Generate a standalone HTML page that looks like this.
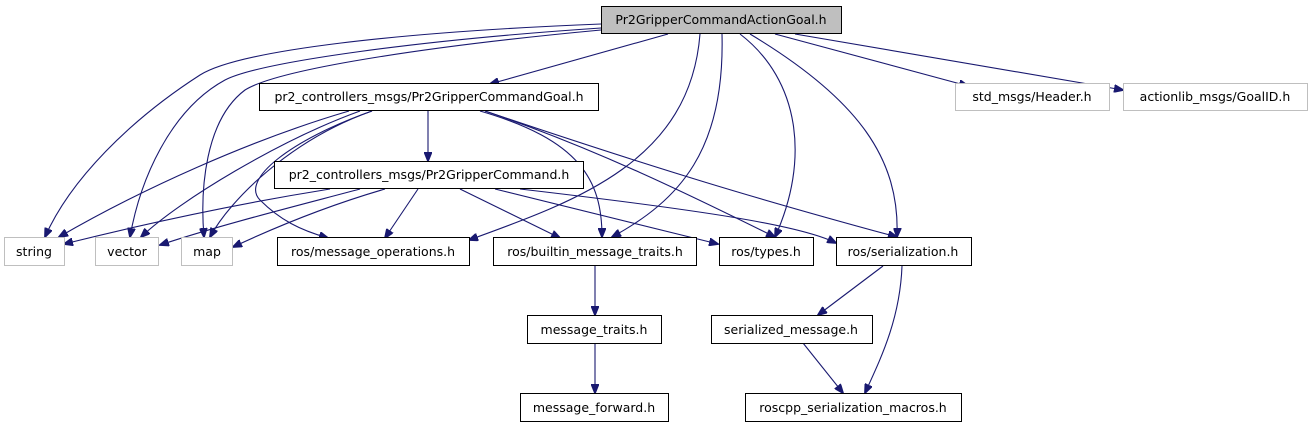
<!DOCTYPE html>
<html><head><meta charset="utf-8"><style>
html,body{margin:0;padding:0;background:#fff;width:1312px;height:427px;overflow:hidden}
text{font-family:"DejaVu Sans","Liberation Sans",sans-serif;font-size:12.5px;fill:#000}
</style></head><body>
<svg width="1312" height="427" viewBox="0 0 1312 427" xmlns="http://www.w3.org/2000/svg">
<defs><marker id="a" markerWidth="10" markerHeight="8" refX="9" refY="4" orient="auto" markerUnits="userSpaceOnUse"><path d="M0,0 L10,4 L0,8 z" fill="#191970" stroke="#191970"/></marker></defs>
<g fill="none" stroke="#191970" stroke-width="1.1" marker-end="url(#a)">
<!-- from top -->
<path d="M668,34 L490,84"/>
<path d="M601,24 C400,32 240,50 200,75 C130,120 70,180 45,237"/>
<path d="M601,28 C420,40 260,62 225,80 C170,110 140,180 130,237"/>
<path d="M601,30 C440,45 280,68 245,90 C205,120 200,190 204,237"/>
<path d="M700,34 C690,160 580,200 469,240"/>
<path d="M722,34 C725,150 680,200 612,237"/>
<path d="M740,34 C800,80 810,160 775,237"/>
<path d="M750,34 C860,100 900,160 897,237"/>
<path d="M775,34 L968,86"/>
<path d="M795,34 L1123,90"/>
<!-- from Goal -->
<path d="M428,111 L428,161"/>
<path d="M349,111 C250,140 140,190 59,237"/>
<path d="M360,111 C280,140 180,200 141,237"/>
<path d="M372,111 C290,140 230,200 210,237"/>
<path d="M372,111 C290,140 240,180 260,200 C280,220 300,230 328,238"/>
<path d="M480,111 C580,140 602,180 602,237"/>
<path d="M485,111 C600,150 700,200 775,237"/>
<path d="M485,111 C660,170 760,200 897,237"/>
<!-- from Command -->
<path d="M330,189 C230,205 140,225 64,244"/>
<path d="M360,189 C300,205 220,225 160,245"/>
<path d="M385,189 C330,205 280,225 233,247"/>
<path d="M418,189 L385,238"/>
<path d="M460,189 L560,238"/>
<path d="M495,189 L718,244"/>
<path d="M520,189 C700,210 800,225 836,243"/>
<!-- bottom -->
<path d="M595,266 L595,315"/>
<path d="M595,343 L595,393"/>
<path d="M883,266 L818,315"/>
<path d="M902,266 C900,320 880,360 865,393"/>
<path d="M803,343 L843,393"/>
</g>
<g stroke-width="1">
<rect x="601.5" y="6.5" width="240" height="27" fill="#bfbfbf" stroke="#000"/>
<rect x="259.5" y="83.5" width="339" height="27" fill="#fff" stroke="#000"/>
<rect x="955.5" y="83.5" width="154" height="27" fill="#fff" stroke="#bfbfbf"/>
<rect x="1123.5" y="83.5" width="184" height="27" fill="#fff" stroke="#bfbfbf"/>
<rect x="274.5" y="161.5" width="309" height="27" fill="#fff" stroke="#000"/>
<rect x="4.5" y="237.5" width="60" height="28" fill="#fff" stroke="#bfbfbf"/>
<rect x="95.5" y="237.5" width="63" height="28" fill="#fff" stroke="#bfbfbf"/>
<rect x="181.5" y="237.5" width="51" height="28" fill="#fff" stroke="#bfbfbf"/>
<rect x="277.5" y="237.5" width="192" height="28" fill="#fff" stroke="#000"/>
<rect x="493.5" y="237.5" width="203" height="28" fill="#fff" stroke="#000"/>
<rect x="719.5" y="237.5" width="94" height="28" fill="#fff" stroke="#000"/>
<rect x="836.5" y="237.5" width="135" height="28" fill="#fff" stroke="#000"/>
<rect x="527.5" y="315.5" width="134" height="28" fill="#fff" stroke="#000"/>
<rect x="711.5" y="315.5" width="161" height="28" fill="#fff" stroke="#000"/>
<rect x="520.5" y="393.5" width="148" height="28" fill="#fff" stroke="#000"/>
<rect x="745.5" y="393.5" width="216" height="28" fill="#fff" stroke="#000"/>
</g>
<g text-anchor="middle">
<text x="721" y="24">Pr2GripperCommandActionGoal.h</text>
<text x="429" y="101">pr2_controllers_msgs/Pr2GripperCommandGoal.h</text>
<text x="1032" y="101">std_msgs/Header.h</text>
<text x="1215" y="101">actionlib_msgs/GoalID.h</text>
<text x="429" y="179">pr2_controllers_msgs/Pr2GripperCommand.h</text>
<text x="34" y="256">string</text>
<text x="127" y="256">vector</text>
<text x="207" y="256">map</text>
<text x="373" y="256">ros/message_operations.h</text>
<text x="595" y="256">ros/builtin_message_traits.h</text>
<text x="766" y="256">ros/types.h</text>
<text x="903" y="256">ros/serialization.h</text>
<text x="594" y="334">message_traits.h</text>
<text x="791" y="334">serialized_message.h</text>
<text x="594" y="412">message_forward.h</text>
<text x="853" y="412">roscpp_serialization_macros.h</text>
</g>
</svg>
</body></html>
